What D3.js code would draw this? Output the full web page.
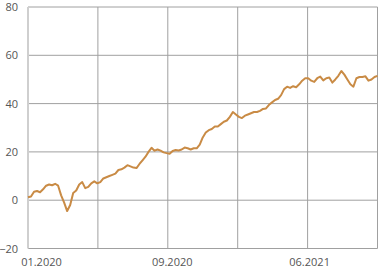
<!DOCTYPE html>
<html>
<head>
<meta charset="utf-8">
<style>
  body { margin: 0; background: #fff; }
  .tick text { font-family: "Open Sans", sans-serif; font-size: 11px; fill: #555; }
</style>
</head>
<body>
<script src="https://cdn.jsdelivr.net/npm/d3@7/dist/d3.min.js"></script>
<script>
// series values, one every few trading days
var values = [1.2, 1.5, 3.5, 3.8, 3.3, 4.5, 6, 6.5, 6.2, 6.8,
  6, 2, -1, -4.5, -2, 3, 4, 6.5, 7.5, 5,
  5.5, 7, 7.8, 7, 7.5, 9, 9.5, 10, 10.5, 11,
  12.5, 12.8, 13.5, 14.5, 14, 13.5, 13.3, 15, 16.5, 18,
  20, 21.7, 20.5, 21, 20.5, 19.8, 19.5, 19.2, 20.4, 20.8,
  20.6, 21, 21.8, 21.5, 21, 21.5, 21.5, 23, 26, 28,
  29, 29.5, 30.5, 30.5, 31.5, 32.5, 33, 34.5, 36.5, 35.5,
  34.5, 34, 35, 35.5, 36, 36.5, 36.5, 37, 37.8, 38,
  39.5, 40.5, 41.5, 42, 43.5, 46, 47, 46.5, 47.2, 46.8,
  48, 49.5, 50.5, 50.5, 49.5, 49, 50.5, 51.2, 49.6, 50.5,
  50.8, 48.7, 50, 51.5, 53.5, 52, 50, 48, 47, 50.5,
  51, 51, 51.3, 49.5, 50, 51, 51.5];

var xTickPos = [4.3, 47.7, 93.3];
var xTickLabels = ["01.2020", "09.2020", "06.2021"];
var yTicks = [-20, 0, 20, 40, 60, 80];
var xDivisions = 5;

var svgW = 381, svgH = 275;
var mLeft = 28, mRight = 377.5, mTop = 7, mBottom = 248.5;

var svg = d3.select("body").append("svg")
  .attr("width", svgW).attr("height", svgH);

var x = d3.scaleLinear().domain([0, values.length - 1]).range([mLeft, mRight]);
var y = d3.scaleLinear().domain([-20, 80]).range([mBottom, mTop]);

// horizontal grid
svg.append("g")
  .selectAll("line").data(yTicks).enter().append("line")
  .attr("x1", mLeft).attr("x2", mRight)
  .attr("y1", function(d) { return y(d); })
  .attr("y2", function(d) { return y(d); })
  .attr("stroke", "#a0a0a0").attr("stroke-width", 1);

// vertical grid, equal divisions
var gridX = d3.range(1, xDivisions + 1).map(function(k) {
  return (values.length - 1) * k / xDivisions;
});
svg.append("g")
  .selectAll("line").data(gridX).enter().append("line")
  .attr("x1", function(d) { return x(d); })
  .attr("x2", function(d) { return x(d); })
  .attr("y1", mTop).attr("y2", mBottom)
  .attr("stroke", "#a0a0a0").attr("stroke-width", 1);

// left edge
svg.append("line")
  .attr("x1", mLeft).attr("x2", mLeft)
  .attr("y1", mTop).attr("y2", mBottom)
  .attr("stroke", "#cfcfcf").attr("stroke-width", 2);

// y axis labels
var yAxis = d3.axisLeft(y).tickValues(yTicks).tickSize(0).tickPadding(10);
svg.append("g")
  .attr("transform", "translate(" + mLeft + ",0)")
  .call(yAxis)
  .call(function(g) { g.select(".domain").remove(); });

// x axis labels
var xAxis = d3.axisBottom(x).tickValues(xTickPos).tickSize(0).tickPadding(10)
  .tickFormat(function(d, i) { return xTickLabels[i]; });
svg.append("g")
  .attr("transform", "translate(0," + mBottom + ")")
  .call(xAxis)
  .call(function(g) { g.select(".domain").remove(); });

// line
var line = d3.line()
  .x(function(d, i) { return x(i); })
  .y(function(d) { return y(d); });

svg.append("path")
  .datum(values)
  .attr("fill", "none")
  .attr("stroke", "#c98b45")
  .attr("stroke-width", 2)
  .attr("stroke-linejoin", "round")
  .attr("d", line);
</script>
</body>
</html>
